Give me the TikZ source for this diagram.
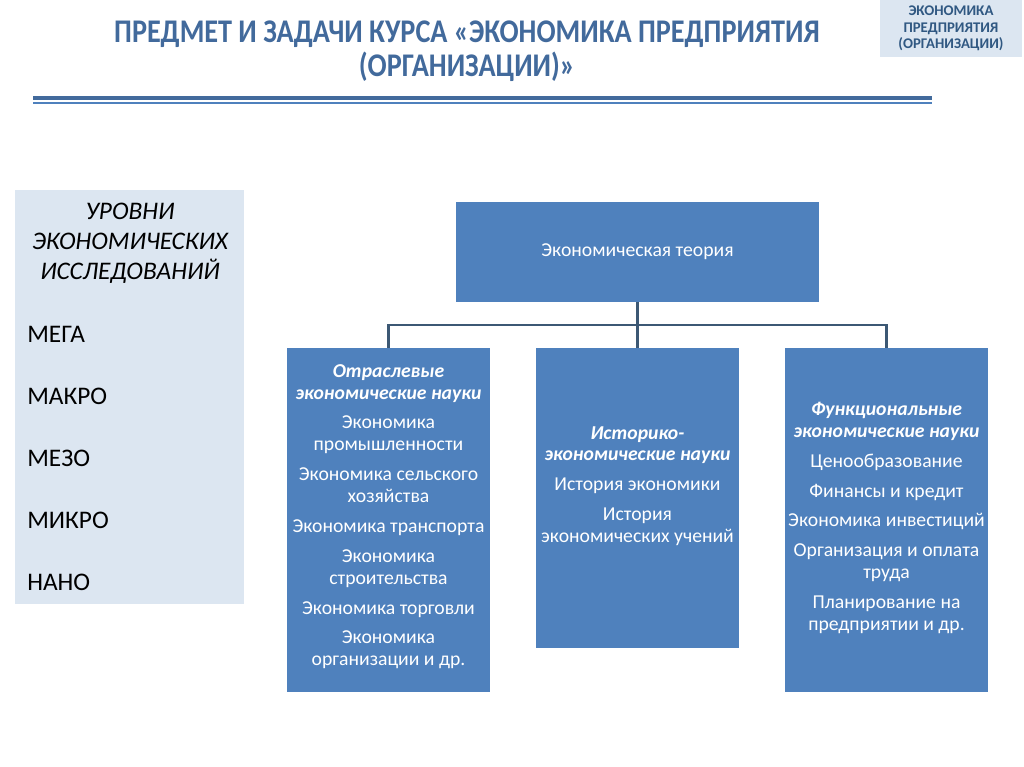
\documentclass[tikz,border=0pt]{standalone}
\usepackage{fontspec}
\setmainfont{Carlito}
\newfontfamily\headfont[FakeStretch=0.855]{Carlito}
\usepackage{tikz}
\usetikzlibrary{positioning}
\definecolor{boxblue}{RGB}{79,129,189}
\definecolor{paleblue}{RGB}{220,230,241}
\definecolor{titleblue}{RGB}{66,106,156}
\definecolor{badgeblue}{RGB}{48,88,130}
\definecolor{linkgray}{RGB}{60,88,116}
\tikzstyle{science} = [fill=boxblue, minimum width=5.075cm, inner sep=0pt]
\tikzstyle{sciencetext} = [text=white, align=center, anchor=north, inner sep=0pt, font=\fontsize{14}{15.6}\selectfont]
\tikzstyle{link} = [line width=2pt, color=linkgray]

\begin{document}
\begin{tikzpicture}[x=0.025cm, y=-0.025cm]
\useasboundingbox[fill=white] (0,0) rectangle (1024,767);

% Title
\node[text=titleblue, align=center, font=\headfont\fontsize{23.5}{24}\selectfont\bfseries] (title) at (467,51)
  {ПРЕДМЕТ И ЗАДАЧИ КУРСА «ЭКОНОМИКА ПРЕДПРИЯТИЯ\\(ОРГАНИЗАЦИИ)»};
\draw[line width=2.8pt, titleblue] (33,98) -- (932,98);
\draw[line width=1pt, boxblue] (33,103) -- (932,103);

% Badge top right
\node[fill=paleblue, minimum width=3.55cm, minimum height=1.425cm, text=badgeblue, align=center,
  font=\fontsize{10.5}{11.7}\selectfont\bfseries] (badge) at (951,28.5)
  {ЭКОНОМИКА\\ПРЕДПРИЯТИЯ\\(ОРГАНИЗАЦИИ)};

% Levels
\node[fill=paleblue, minimum width=5.725cm, minimum height=10.35cm] (levels) at (129.5,397) {};
\node[anchor=north, align=center, inner sep=0pt, font=\fontsize{18}{21.3}\selectfont\itshape] (levelstitle) at (130,203)
  {УРОВНИ\\ЭКОНОМИЧЕСКИХ\\ИССЛЕДОВАНИЙ};
\foreach \lvl [count=\i] in {МЕГА,МАКРО,МЕЗО,МИКРО,НАНО}
  \node[anchor=west, inner sep=0pt, font=\fontsize{18}{21.3}\selectfont] (lvl\i) at (27,{272+62*\i}) {\lvl};

% Economic theory
\node[fill=boxblue, minimum width=9.075cm, minimum height=2.5cm, text=white,
  font=\fontsize{14}{15.6}\selectfont] (theory) at (637.5,252) {Экономическая теория};

% Branches
\node[science, minimum height=8.6cm] (branch) at (388.5,520) {};
\node[science, minimum height=7.5cm] (hist) at (637.5,498) {};
\node[science, minimum height=8.6cm] (func) at (886.5,520) {};

\coordinate (bus) at (637.5,325);
\draw[link] (theory.south) -- (hist.north);
\draw[link] (branch.north) -- (branch.north |- bus) -- (func.north |- bus) -- (func.north);

\node[sciencetext] (branchtext) at (388.5,364)
  {\textbf{\textit{Отраслевые}}\\\textbf{\textit{экономические науки}}\\[5.6pt]
   Экономика\\промышленности\\[5.6pt]
   Экономика сельского\\хозяйства\\[5.6pt]
   Экономика транспорта\\[5.6pt]
   Экономика\\строительства\\[5.6pt]
   Экономика торговли\\[5.6pt]
   Экономика\\организации и др.};
\node[sciencetext] (histtext) at (637.5,426)
  {\textbf{\textit{Историко-}}\\\textbf{\textit{экономические науки}}\\[5.6pt]
   История экономики\\[5.6pt]
   История\\экономических учений};
\node[sciencetext] (functext) at (886.5,402)
  {\textbf{\textit{Функциональные}}\\\textbf{\textit{экономические науки}}\\[5.6pt]
   Ценообразование\\[5.6pt]
   Финансы и кредит\\[5.6pt]
   Экономика инвестиций\\[5.6pt]
   Организация и оплата\\труда\\[5.6pt]
   Планирование на\\предприятии и др.};
\end{tikzpicture}
\end{document}
